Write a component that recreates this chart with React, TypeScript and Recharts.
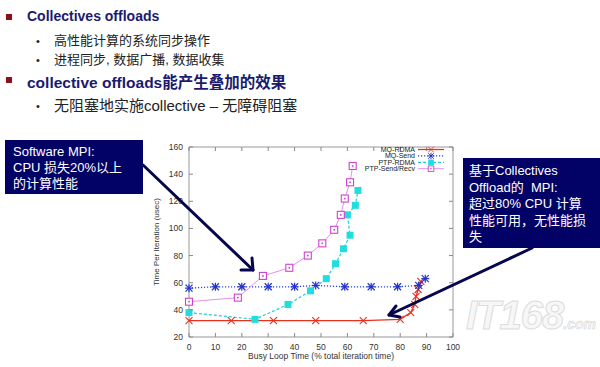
import React from "react";
import { LineChart, Line, XAxis, YAxis, ReferenceArea } from "recharts";

// axis ticks
const xTicks = [0, 10, 20, 30, 40, 50, 60, 70, 80, 90, 100];
const yTicks = [20, 40, 60, 80, 100, 120, 140, 160];

// MQ-RDMA
const mqRdmaX = [0, 16, 32, 48, 66, 80, 84, 85.5, 86, 86.8, 87.8];
const mqRdmaY = [32, 32, 32, 32, 32, 33, 38, 44, 50, 55, 61];

// MQ-Send
const mqSendX = [0, 10, 20, 30, 40, 48, 59, 69, 79, 87, 89.5];
const mqSendY = [56, 57, 57, 57, 57, 58, 57, 57, 57, 58, 63];

// PTP-RDMA
const ptpRdmaX = [0, 25, 37.5, 46, 52, 55.5, 58.5, 61, 60, 63, 64];
const ptpRdmaY = [38, 33, 44, 54, 63, 74, 85, 95, 110, 117, 128];

// PTP-Send/Recv
const ptpSendX = [0, 18.5, 28, 38, 45, 50.5, 55, 57.5, 59, 61, 62];
const ptpSendY = [46, 49, 65, 71, 80, 89, 99, 110, 122, 134, 146];

const FONT = 'Arial, "Liberation Sans", "Noto Sans CJK SC", sans-serif';
const NAVY = "#020266";

// chart geometry (chart-local coords)
const CW = 325;
const CH = 230;
const PLOT_L = 44;
const PLOT_R = CW - 17;
const PLOT_T = 10;
const PLOT_B = CH - 30;

type Shape = "cross" | "star" | "fsquare" | "osquare";

const toPoints = (xs: number[], ys: number[]) => xs.map((x, i) => ({ x, y: ys[i] }));

const series = [
  { key: "mqRdma", name: "MQ-RDMA", color: "#e8321e", line: "#e8321e", dash: undefined, width: 1.3, shape: "cross" as Shape, data: toPoints(mqRdmaX, mqRdmaY) },
  { key: "mqSend", name: "MQ-Send", color: "#2233cc", line: "#2a44dd", dash: "1.2 1.8", width: 1.3, shape: "star" as Shape, data: toPoints(mqSendX, mqSendY) },
  { key: "ptpRdma", name: "PTP-RDMA", color: "#22dde0", line: "#22d0d8", dash: "3 2", width: 1.2, shape: "fsquare" as Shape, data: toPoints(ptpRdmaX, ptpRdmaY) },
  { key: "ptpSend", name: "PTP-Send/Recv", color: "#d040d0", line: "#e490f0", dash: undefined, width: 1, shape: "osquare" as Shape, data: toPoints(ptpSendX, ptpSendY) },
];

function Marker({ shape, cx, cy, color }: { shape: Shape; cx: number; cy: number; color: string }) {
  const s = 3.5;
  if (shape === "cross") {
    return (
      <g stroke={color} strokeWidth={1.1}>
        <line x1={cx - s} y1={cy - s} x2={cx + s} y2={cy + s} />
        <line x1={cx - s} y1={cy + s} x2={cx + s} y2={cy - s} />
      </g>
    );
  }
  if (shape === "star") {
    return (
      <g stroke={color} strokeWidth={1.2}>
        <line x1={cx - s} y1={cy - s} x2={cx + s} y2={cy + s} />
        <line x1={cx - s} y1={cy + s} x2={cx + s} y2={cy - s} />
        <line x1={cx - s - 0.5} y1={cy} x2={cx + s + 0.5} y2={cy} />
        <line x1={cx} y1={cy - s - 0.5} x2={cx} y2={cy + s + 0.5} />
      </g>
    );
  }
  if (shape === "fsquare") {
    return <rect x={cx - 3.5} y={cy - 3.5} width={7} height={7} fill={color} />;
  }
  return (
    <g>
      <rect x={cx - 3.5} y={cy - 3.5} width={7} height={7} fill="#fff" stroke={color} strokeWidth={1.1} />
      <rect x={cx - 0.8} y={cy - 0.8} width={1.6} height={1.6} fill={color} />
    </g>
  );
}

const XTick = (props: any) => {
  const { x, payload } = props;
  return (
    <g>
      <line x1={x} x2={x} y1={PLOT_B} y2={PLOT_B - 4} stroke="#888" />
      <line x1={x} x2={x} y1={PLOT_T} y2={PLOT_T + 4} stroke="#888" />
      <text x={x} y={PLOT_B + 13} textAnchor="middle" fontSize={8.5} fill="#333" fontFamily={FONT}>
        {payload.value}
      </text>
    </g>
  );
};

const YTick = (props: any) => {
  const { y, payload } = props;
  return (
    <g>
      <line x1={PLOT_L} x2={PLOT_L + 4} y1={y} y2={y} stroke="#888" />
      <line x1={PLOT_R - 4} x2={PLOT_R} y1={y} y2={y} stroke="#888" />
      <text x={PLOT_L - 6} y={y + 3} textAnchor="end" fontSize={8.5} fill="#333" fontFamily={FONT}>
        {payload.value}
      </text>
    </g>
  );
};

function PerfChart() {
  return (
    <LineChart width={CW} height={CH} margin={{ top: PLOT_T, right: 17, bottom: 0, left: 0 }}>
      <XAxis
        type="number"
        dataKey="x"
        domain={[0, 100]}
        ticks={xTicks}
        axisLine={false}
        tickLine={false}
        height={30}
        tick={<XTick />}
        label={{
          content: () => (
            <text x={(PLOT_L + PLOT_R) / 2} y={CH - 8} textAnchor="middle" fontSize={8.5} fill="#333" fontFamily={FONT}>
              Busy Loop Time (% total iteration time)
            </text>
          ),
        }}
      />
      <YAxis
        type="number"
        dataKey="y"
        domain={[20, 160]}
        ticks={yTicks}
        axisLine={false}
        tickLine={false}
        width={PLOT_L}
        tick={<YTick />}
        label={{
          content: () => (
            <text
              x={14}
              y={(PLOT_T + PLOT_B) / 2}
              transform={`rotate(-90, 14, ${(PLOT_T + PLOT_B) / 2})`}
              textAnchor="middle"
              fontSize={8}
              fill="#333"
              fontFamily={FONT}
            >
              Time Per Iteration (usec)
            </text>
          ),
        }}
      />
      <ReferenceArea x1={0} x2={100} y1={20} y2={160} fill="none" stroke="#999" strokeWidth={1} ifOverflow="visible" />
      {series.map((s) => (
        <Line
          key={s.key}
          data={s.data}
          dataKey="y"
          name={s.name}
          type="linear"
          stroke={s.line}
          strokeWidth={s.width}
          strokeDasharray={s.dash}
          isAnimationActive={false}
          dot={(p: any) => <Marker key={`${s.key}-${p.index}`} shape={s.shape} cx={p.cx} cy={p.cy} color={s.color} />}
          activeDot={false}
        />
      ))}
    </LineChart>
  );
}

function ChartLegend() {
  return (
    <svg width={90} height={30} style={{ position: "absolute", left: 363, top: 145 }}>
      {series.map((s, i) => {
        const y = 4.5 + i * 6.4;
        return (
          <g key={s.key}>
            <text x={52} y={y + 2.5} textAnchor="end" fontSize={7} fill="#222" fontFamily={FONT}>
              {s.name}
            </text>
            <line x1={55} x2={81} y1={y} y2={y} stroke={s.line} strokeWidth={s.width} strokeDasharray={s.dash} />
            <g transform={`translate(68, ${y}) scale(0.8) translate(-68, ${-y})`}>
              <Marker shape={s.shape} cx={68} cy={y} color={s.color} />
            </g>
          </g>
        );
      })}
    </svg>
  );
}

const bulletSquare = (top: number) => (
  <div style={{ position: "absolute", left: 6, top, width: 6, height: 6, background: "#8c1016" }} />
);

const dot = (top: number) => (
  <div style={{ position: "absolute", left: 36, top, fontSize: 11, lineHeight: "12px", color: "#222" }}>•</div>
);

export default function App() {
  return (
    <div
      style={{
        position: "absolute",
        left: 0,
        top: 0,
        width: 600,
        height: 367,
        background: "#fff",
        overflow: "hidden",
        fontFamily: FONT,
      }}
    >
      {bulletSquare(14)}
      <div style={{ position: "absolute", left: 27, top: 8, fontSize: 14, fontWeight: 700, color: "#1a1a6e", whiteSpace: "nowrap" }}>
        Collectives offloads
      </div>
      {dot(35)}
      <div style={{ position: "absolute", left: 54, top: 30, fontSize: 13, color: "#222", whiteSpace: "nowrap" }}>
        高性能计算的系统同步操作
      </div>
      {dot(54)}
      <div style={{ position: "absolute", left: 54, top: 49, fontSize: 13, color: "#222", whiteSpace: "nowrap" }}>
        进程同步, 数据广播, 数据收集
      </div>
      {bulletSquare(77)}
      <div style={{ position: "absolute", left: 27, top: 70, fontSize: 15.5, fontWeight: 700, color: "#1a1a6e", whiteSpace: "nowrap" }}>
        collective offloads能产生叠加的效果
      </div>
      {dot(100)}
      <div style={{ position: "absolute", left: 54, top: 94, fontSize: 15, color: "#222", whiteSpace: "nowrap" }}>
        无阻塞地实施collective – 无障碍阻塞
      </div>

      <div
        style={{
          position: "absolute",
          left: 466,
          top: 292,
          fontSize: 40,
          fontWeight: 700,
          fontStyle: "italic",
          color: "#f7f7f7",
          WebkitTextStroke: "1px #dcdcdc",
          letterSpacing: -1,
          whiteSpace: "nowrap",
          lineHeight: "46px",
        }}
      >
        IT168<span style={{ fontSize: 14, letterSpacing: 0, WebkitTextStroke: "0.5px #d0d0d0" }}>.com</span>
      </div>

      <div style={{ position: "absolute", left: 145, top: 137 }}>
        <PerfChart />
      </div>
      <ChartLegend />

      <svg width={600} height={367} style={{ position: "absolute", left: 0, top: 0, pointerEvents: "none" }}>
        <g stroke="#06064e" strokeWidth={3} fill="none" strokeLinecap="round" strokeLinejoin="round">
          <line x1={143} y1={165} x2={253} y2={270} />
          <polyline points="241,270 253,270 252,258" />
          <line x1={532} y1={248} x2={389} y2={315} />
          <polyline points="396,306 389,315 400,317" />
        </g>
      </svg>

      <div
        style={{
          position: "absolute",
          left: 5,
          top: 140,
          width: 138,
          height: 54,
          background: NAVY,
          color: "#fff",
          fontSize: 13,
          lineHeight: "16px",
          padding: "4px 0 0 8px",
          boxSizing: "border-box",
          whiteSpace: "pre",
        }}
      >
        {"Software MPI:\nCPU 损失20%以上\n的计算性能"}
      </div>
      <div
        style={{
          position: "absolute",
          left: 463,
          top: 158,
          width: 137,
          height: 90,
          background: NAVY,
          color: "#fff",
          fontSize: 13,
          lineHeight: "16.5px",
          padding: "5px 0 0 6px",
          boxSizing: "border-box",
          whiteSpace: "pre",
        }}
      >
        {"基于Collectives\nOffload的  MPI:\n超过80% CPU 计算\n性能可用，无性能损\n失"}
      </div>
    </div>
  );
}
